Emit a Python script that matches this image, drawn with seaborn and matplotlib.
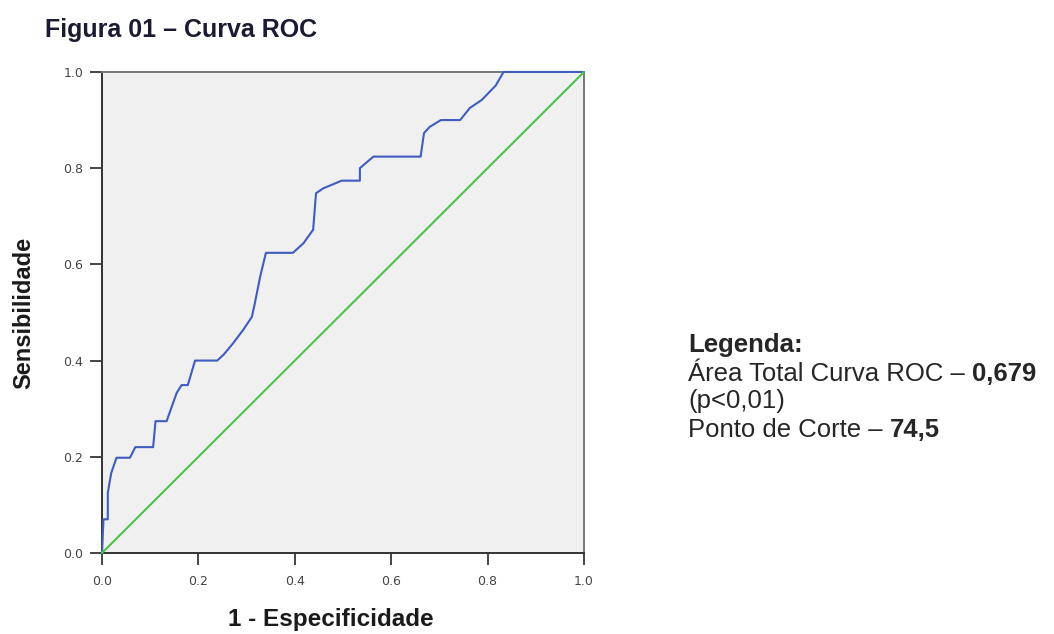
import matplotlib
matplotlib.use("Agg")
import matplotlib.pyplot as plt
import seaborn as sns
import pandas as pd

# ROC curve points (1 - especificidade, sensibilidade)
fpr = [0.0, 0.003, 0.012, 0.012, 0.019, 0.030, 0.058, 0.069, 0.106, 0.111, 0.134,
       0.155, 0.165, 0.178, 0.193, 0.239, 0.252, 0.272, 0.293, 0.311, 0.317, 0.328,
       0.340, 0.396, 0.418, 0.438, 0.444, 0.459, 0.497, 0.535, 0.535, 0.563, 0.661,
       0.668, 0.680, 0.703, 0.743, 0.763, 0.788, 0.817, 0.833, 1.0]
tpr = [0.0, 0.070, 0.070, 0.125, 0.166, 0.198, 0.198, 0.220, 0.220, 0.274, 0.274,
       0.333, 0.349, 0.349, 0.400, 0.400, 0.412, 0.436, 0.464, 0.491, 0.519, 0.574,
       0.624, 0.624, 0.644, 0.672, 0.748, 0.758, 0.774, 0.774, 0.800, 0.824, 0.824,
       0.873, 0.886, 0.900, 0.900, 0.925, 0.942, 0.972, 1.0, 1.0]
ref_line = [0.0, 1.0]
ticks = [0.0, 0.2, 0.4, 0.6, 0.8, 1.0]
tick_labels = ["0.0", "0.2", "0.4", "0.6", "0.8", "1.0"]

sns.set_style("ticks", {"axes.facecolor": "#f0f0f0"})
plt.rcParams['font.family'] = ['Liberation Sans', 'DejaVu Sans']

fig = plt.figure(figsize=(10.54, 6.34), dpi=100)
ax = fig.add_axes([0.0968, 0.1278, 0.4573, 0.7587])

roc = pd.DataFrame({"x": fpr, "y": tpr})
sns.lineplot(data=roc, x="x", y="y", ax=ax, color="#3f5cbf", lw=1.5,
             sort=False, estimator=None, zorder=3, clip_on=False)
sns.lineplot(x=ref_line, y=ref_line, ax=ax, color="#4cc24c", lw=1.5,
             zorder=3, clip_on=False)

ax.set_xlim(0, 1)
ax.set_ylim(0, 1)
ax.set_xticks(ticks)
ax.set_yticks(ticks)
ax.set_xticklabels(tick_labels, family="DejaVu Sans")
ax.set_yticklabels(tick_labels, family="DejaVu Sans")
ax.tick_params(direction="out", length=8.5, width=1.4, labelsize=9,
               colors="#444444")
ax.tick_params(axis="x", pad=7)
ax.tick_params(axis="y", pad=5)

for side in ["left", "bottom"]:
    ax.spines[side].set_color("#333333")
    ax.spines[side].set_linewidth(1.4)
for side in ["top", "right"]:
    ax.spines[side].set_visible(True)
    ax.spines[side].set_color("#777777")
    ax.spines[side].set_linewidth(1.4)

ax.set_xlabel("")
ax.set_ylabel("Sensibilidade", fontsize=17, fontweight="bold",
              color="#1a1a1a", labelpad=20)
fig.text(331 / 1054, 0.012, "1 - Especificidade", fontsize=17.5,
         fontweight="bold", color="#1a1a1a", ha="center", va="baseline")

fig.text(0.0427, 0.942, "Figura 01 \u2013 Curva ROC", fontsize=18,
         fontweight="bold", color="#1a1a33", va="baseline")

# legend text block on the right
fs = 18.5
x0 = 688 / 1054
fig.text(x0, 0.4448, "Legenda:", fontsize=fs, fontweight="bold", va="baseline")
t1 = fig.text(x0, 0.3991, "\u00c1rea Total Curva ROC \u2013 ", fontsize=fs, va="baseline")
fig.text(x0, 0.3565, "(p<0,01)", fontsize=fs, va="baseline")
t2 = fig.text(x0, 0.3107, "Ponto de Corte \u2013 ", fontsize=fs, va="baseline")

# bold numbers placed right after the regular text
fig.canvas.draw()
r = fig.canvas.get_renderer()
for t_reg, y, val in [(t1, 0.3991, "0,679"), (t2, 0.3107, "74,5")]:
    bb = t_reg.get_window_extent(r)
    fig.text(bb.x1 / fig.bbox.width, y, val, fontsize=fs, fontweight="bold",
             va="baseline")

fig.savefig("out.png", dpi=100)
